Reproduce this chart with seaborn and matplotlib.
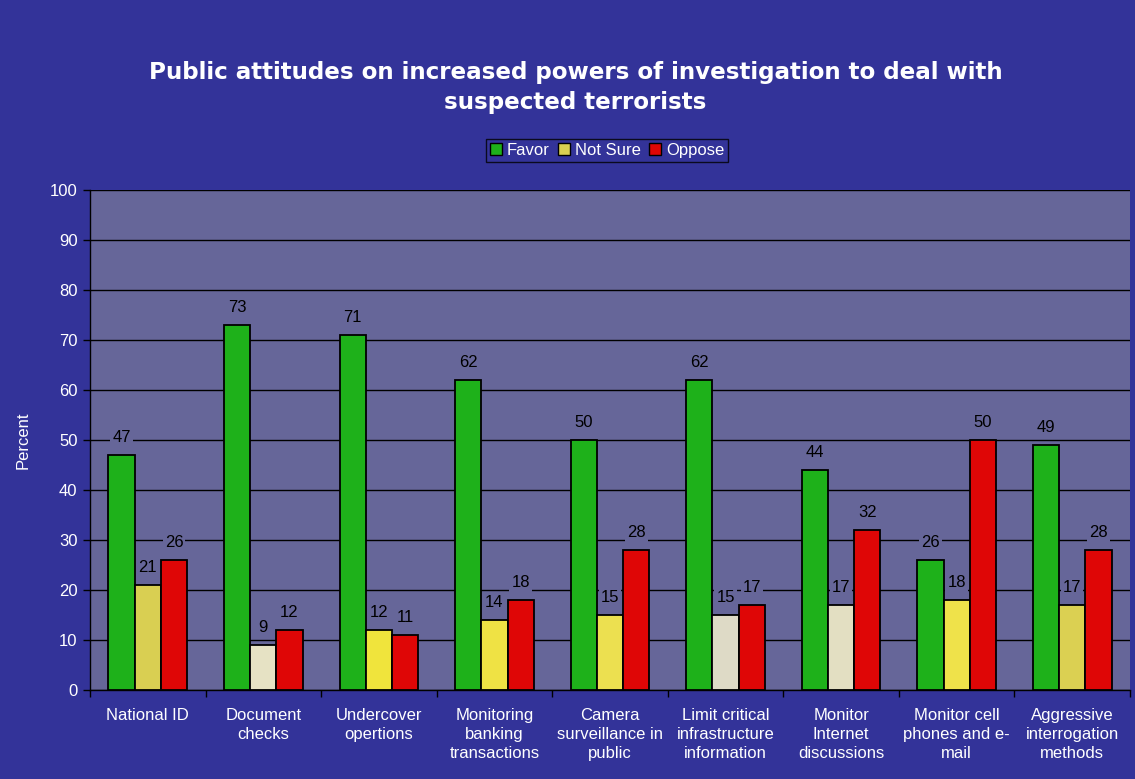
import matplotlib
matplotlib.use("Agg")
import matplotlib.pyplot as plt
from matplotlib.patches import Patch
import seaborn as sns
import pandas as pd
import numpy as np

categories = [
    "National ID", "Document\nchecks", "Undercover\nopertions",
    "Monitoring\nbanking\ntransactions", "Camera\nsurveillance in\npublic",
    "Limit critical\ninfrastructure\ninformation", "Monitor\nInternet\ndiscussions",
    "Monitor cell\nphones and e-\nmail", "Aggressive\ninterrogation\nmethods",
]
favor = [47, 73, 71, 62, 50, 62, 44, 26, 49]
not_sure = [21, 9, 12, 14, 15, 15, 17, 18, 17]
oppose = [26, 12, 11, 18, 28, 17, 32, 50, 28]
series = ["Favor", "Not Sure", "Oppose"]

# per-bar shading of the "Not Sure" column
not_sure_colors = ["#D9CF52", "#E6E2C4", "#F0E43C", "#EFE244", "#ECE050",
                   "#DEDAC6", "#E3DFC2", "#EFE24A", "#DBD052"]
series_colors = {"Favor": "#1EB11A", "Not Sure": "#D9CF52", "Oppose": "#DF0606"}

BG = "#333399"
PLOT_BG = "#666699"

df = pd.DataFrame({
    "category": np.repeat(categories, 3),
    "series": series * len(categories),
    "value": [v for trio in zip(favor, not_sure, oppose) for v in trio],
})

sns.set_theme(style="white")
plt.rcParams["font.family"] = ["Liberation Sans", "DejaVu Sans"]

fig = plt.figure(figsize=(11.35, 7.79), dpi=100, facecolor=BG)
ax = fig.add_axes([0.0793, 0.1142, 0.9163, 0.6419])
ax.set_facecolor(PLOT_BG)

sns.barplot(data=df, x="category", y="value", hue="series", order=categories,
            hue_order=series, palette=series_colors, saturation=1, width=0.68,
            gap=0, edgecolor="black", linewidth=1.3, ax=ax, zorder=3, legend=False)

for patch, c in zip(ax.containers[1].patches, not_sure_colors):
    patch.set_facecolor(c)

for cont in ax.containers:
    ax.bar_label(cont, fmt="%d", padding=7, fontsize=12, color="black",
                 bbox=dict(facecolor=PLOT_BG, edgecolor="none", pad=1.5),
                 zorder=4)

ax.set_ylim(0, 100)
ax.set_xlim(-0.5, len(categories) - 0.5)
ax.set_yticks(range(0, 101, 10))
ax.yaxis.grid(True, color="black", linewidth=1.0, zorder=0)
ax.set_axisbelow(True)

for side in ["top", "right"]:
    ax.spines[side].set_visible(False)
ax.spines["left"].set_color("black")
ax.spines["bottom"].set_color("black")
ax.spines["left"].set_linewidth(1.0)
ax.spines["bottom"].set_linewidth(1.0)

ax.tick_params(axis="y", labelcolor="white", labelsize=12, length=5, width=1,
               direction="out", left=True, pad=4, color="black")
ax.set_xticks(range(len(categories)))
ax.set_xticklabels(categories, color="white", fontsize=12, linespacing=1.35)
ax.tick_params(axis="x", length=0, pad=13)
ax.set_xticks(np.arange(-0.5, len(categories), 1), minor=True)
ax.tick_params(axis="x", which="minor", length=5, width=1, color="black",
               direction="out", bottom=True)

ax.set_xlabel("")
ax.set_ylabel("Percent", color="white", fontsize=12, labelpad=14)

fig.text(0.507, 0.888,
         "Public attitudes on increased powers of investigation to deal with\nsuspected terrorists",
         ha="center", va="center", color="white", fontsize=16.6, fontweight="bold",
         family=["DejaVu Sans"], linespacing=1.4)

handles = [Patch(facecolor=series_colors[s], edgecolor="black", linewidth=1.0) for s in series]
leg = fig.legend(handles, series, loc="center", bbox_to_anchor=(0.535, 0.807),
                 ncol=3, frameon=True, fontsize=12, handlelength=0.7,
                 handleheight=0.7, handletextpad=0.3, columnspacing=0.5,
                 borderpad=0.25, fancybox=False, labelcolor="white")
leg.get_frame().set_facecolor(BG)
leg.get_frame().set_edgecolor("black")
leg.get_frame().set_linewidth(1.0)

fig.savefig("out.png", dpi=100, facecolor=BG)
